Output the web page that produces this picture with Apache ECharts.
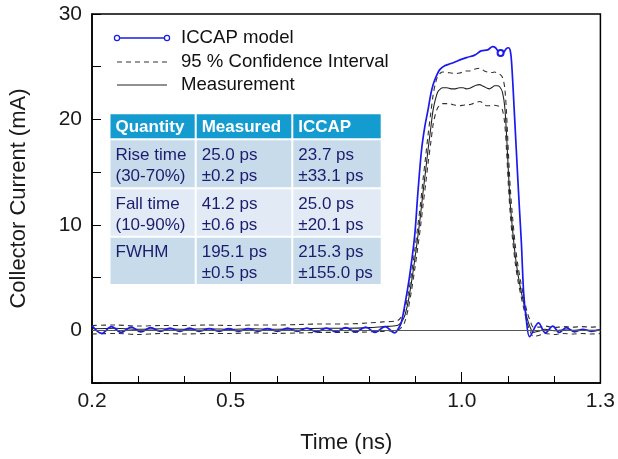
<!DOCTYPE html>
<html>
<head>
<meta charset="utf-8">
<script src="https://cdn.jsdelivr.net/npm/echarts@6/dist/echarts.min.js"></script>
<style>
html,body{margin:0;padding:0;background:#fff;}
#chart{width:618px;height:459px;}
</style>
</head>
<body>
<div id="chart"></div>
<script>
// ---- Data ----
const tMeas = [0.20,0.25,0.30,0.35,0.40,0.45,0.50,0.55,0.60,0.65,0.70,0.75,0.80,0.83,0.86,
  0.868,0.876,0.884,0.891,0.898,0.905,0.911,0.916,0.922,0.927,0.933,0.938,0.943,0.948,0.954,0.959,
  0.968,0.977,0.986,0.995,1.003,1.010,1.017,1.024,1.031,1.039,1.044,1.049,1.055,1.060,1.066,1.071,1.077,
  1.082,1.088,1.093,1.097,1.101,1.105,1.110,1.116,1.122,1.128,1.134,1.141,1.148,1.155,1.166,1.18,1.20,1.22,1.24,1.26,1.28,1.30];
const iMeas = [0.15,0.2,0.1,0.15,0.1,0.15,0.1,0.15,0.1,0.15,0.2,0.2,0.25,0.35,0.45,
  0.7,1.3,2.7,4.5,6.6,8.9,11.0,13.0,15.2,17.1,19.2,20.9,21.9,22.6,22.9,23.0,
  23.0,22.9,22.9,23.0,23.0,22.9,22.95,23.1,23.25,23.3,23.2,23.1,22.95,22.9,23.05,23.2,23.2,
  23.1,22.6,21.2,18.5,15.0,12.0,9.5,7.0,5.2,3.8,2.6,1.2,0.3,-0.2,-0.1,0.1,-0.05,0.05,0.0,0.05,0.0,0.05];
const iUpper = [0.45,0.5,0.4,0.45,0.45,0.5,0.45,0.5,0.5,0.55,0.6,0.6,0.7,0.8,0.9,
  1.2,1.9,3.4,5.3,7.5,9.9,12.1,14.2,16.5,18.5,20.6,22.3,23.4,24.1,24.4,24.5,
  24.45,24.4,24.35,24.4,24.5,24.6,24.6,24.7,24.8,24.85,24.75,24.6,24.5,24.45,24.45,24.5,24.4,
  24.3,24.0,23.0,20.5,16.8,13.5,10.7,8.0,6.0,4.5,3.2,1.8,0.9,0.3,0.3,0.4,0.25,0.35,0.3,0.35,0.3,0.35];
const iLower = [-0.35,-0.3,-0.4,-0.3,-0.35,-0.3,-0.3,-0.25,-0.3,-0.25,-0.2,-0.2,-0.15,-0.1,0.0,
  0.2,0.7,2.0,3.7,5.7,7.9,9.9,11.8,13.9,15.8,17.8,19.5,20.5,21.1,21.4,21.5,
  21.5,21.45,21.35,21.3,21.35,21.4,21.4,21.5,21.6,21.7,21.6,21.4,21.3,21.3,21.35,21.35,21.3,
  21.2,20.9,19.6,17.0,13.7,11.0,8.6,6.3,4.6,3.3,2.1,0.8,-0.1,-0.6,-0.5,-0.3,-0.4,-0.3,-0.35,-0.3,-0.35,-0.3];

const tModel = [0.200,0.221,0.242,0.263,0.285,0.306,0.327,0.348,0.369,0.390,0.411,0.432,0.454,0.475,0.496,0.517,
  0.538,0.559,0.580,0.601,0.623,0.644,0.665,0.686,0.707,0.728,0.749,0.770,0.792,0.813,0.834,0.855,
  0.862,0.869,0.876,0.887,0.898,0.905,0.913,0.920,0.927,0.933,0.938,0.945,0.952,0.963,0.977,0.988,0.999,1.013,
  1.028,1.042,1.056,1.067,1.073,1.078,1.084,1.089,1.096,1.101,1.105,1.108,1.114,1.121,1.125,1.129,1.134,1.139,
  1.147,1.166,1.181,1.197,1.211,1.226,1.244,1.262,1.280,1.298];
const iModel = [0.45,-0.3,0.35,-0.2,0.3,-0.15,0.25,-0.1,0.2,-0.1,0.2,-0.1,0.15,-0.1,0.15,-0.1,
  0.15,-0.1,0.15,-0.1,0.2,-0.1,0.2,-0.15,0.2,-0.15,0.25,-0.15,0.3,-0.2,0.35,-0.25,
  0.1,0.7,2.2,5.1,8.9,13.0,17.1,19.3,20.9,22.4,23.3,24.1,24.7,25.1,25.3,25.5,25.7,25.9,
  26.1,26.5,26.6,26.9,26.8,26.5,26.3,26.3,26.7,26.8,26.5,25.3,20.5,14.6,11.4,8.3,3.5,1.3,
  -0.6,0.7,-0.25,0.4,-0.2,0.25,-0.15,0.1,-0.1,0.05];
const modelMarkerTime = 1.084;

const xTickValues = [0.2,0.3,0.4,0.5,0.6,0.7,0.8,0.9,1.0,1.1,1.2,1.3];
const xLabelValues = [0.2,0.5,1.0,1.3];
const xMajorTicks = [0.5,1.0];
const yLabelValues = [0,10,20,30];

const legendNames = ['ICCAP model','95 % Confidence Interval','Measurement'];
const tableHeader = ['Quantity','Measured','ICCAP'];
const tableRows = [
  [['Rise time','(30-70%)'],['25.0 ps','±0.2 ps'],['23.7 ps','±33.1 ps']],
  [['Fall time','(10-90%)'],['41.2 ps','±0.6 ps'],['25.0 ps','±20.1 ps']],
  [['FWHM',''],['195.1 ps','±0.5 ps'],['215.3 ps','±155.0 ps']]
];

// ---- Build ----
const FONT = '"Liberation Sans", Arial, Helvetica, sans-serif';
const BLUE = '#1a1aee';
const pairs = (t, v) => t.map((x, i) => [x, v[i]]);
const markerIdx = tModel.indexOf(modelMarkerTime);

const chart = echarts.init(document.getElementById('chart'), null, {renderer: 'canvas'});

// legend graphics
const legendX0 = 117, legendX1 = 167, legendTextX = 181, legendYs = [38, 62, 85];
const graphics = [];
graphics.push({type:'line', shape:{x1:legendX0,y1:legendYs[0],x2:legendX1,y2:legendYs[0]}, style:{stroke:BLUE,lineWidth:1.6}, z:100});
graphics.push({type:'circle', shape:{cx:legendX0,cy:legendYs[0],r:2.6}, style:{stroke:BLUE,fill:'#fff',lineWidth:1.2}, z:101});
graphics.push({type:'circle', shape:{cx:legendX1,cy:legendYs[0],r:2.6}, style:{stroke:BLUE,fill:'#fff',lineWidth:1.2}, z:101});
graphics.push({type:'line', shape:{x1:legendX0,y1:legendYs[1],x2:legendX1,y2:legendYs[1]}, style:{stroke:'#333',lineWidth:1.1,lineDash:[5,4]}, z:100});
graphics.push({type:'line', shape:{x1:legendX0,y1:legendYs[2],x2:legendX1,y2:legendYs[2]}, style:{stroke:'#222',lineWidth:1.1}, z:100});
legendNames.forEach((n, i) => {
  graphics.push({type:'text', x:legendTextX, y:legendYs[i], style:{text:n, fill:'#111', font:'18.6px ' + FONT, textVerticalAlign:'middle', textAlign:'left'}, z:100});
});

// table graphics
const colX = [109.5, 195.7, 292.3, 381.7];
const rowY = [113.3, 139.3, 188.3, 236.7, 285];
const rowFill = ['#c8dbeb', '#e2ebf5', '#c8dbeb'];
for (let c = 0; c < 3; c++) {
  graphics.push({type:'rect', shape:{x:colX[c]+1, y:rowY[0]+1, width:colX[c+1]-colX[c]-2, height:rowY[1]-rowY[0]-2}, style:{fill:'#149bcf'}, z:50});
  graphics.push({type:'text', x:colX[c]+6, y:(rowY[0]+rowY[1])/2+1, style:{text:tableHeader[c], fill:'#fff', font:'bold 17px ' + FONT, textVerticalAlign:'middle'}, z:51});
}
tableRows.forEach((row, r) => {
  for (let c = 0; c < 3; c++) {
    graphics.push({type:'rect', shape:{x:colX[c]+1, y:rowY[r+1]+1, width:colX[c+1]-colX[c]-2, height:rowY[r+2]-rowY[r+1]-2}, style:{fill:rowFill[r]}, z:50});
    const lines = row[c];
    const yc = rowY[r+1];
    graphics.push({type:'text', x:colX[c]+6, y:yc+16, style:{text:lines[0], fill:'#1c1c6e', font:'17px ' + FONT, textVerticalAlign:'middle'}, z:51});
    if (lines[1]) graphics.push({type:'text', x:colX[c]+6, y:yc+37, style:{text:lines[1], fill:'#1c1c6e', font:'17px ' + FONT, textVerticalAlign:'middle'}, z:51});
  }
});

const option = {
  animation: false,
  backgroundColor: '#fff',
  grid: {left: 92, right: 16, top: 14, bottom: 75, show: true, borderColor: '#000', borderWidth: 1.5, backgroundColor: 'transparent'},
  xAxis: [{
    type: 'value', min: 0.2, max: 1.3, interval: 0.1,
    name: 'Time (ns)', nameLocation: 'middle', nameGap: 49,
    nameTextStyle: {fontSize: 22, color: '#1a1a1a', fontFamily: FONT},
    axisLine: {show: true, onZero: false, lineStyle: {color: '#000', width: 1.5}},
    axisTick: {show: true, inside: true, length: 7, customValues: xTickValues, lineStyle: {color: '#000', width: 1}},
    axisLabel: {customValues: xLabelValues, fontSize: 21, color: '#1a1a1a', fontFamily: FONT, margin: 8,
      formatter: v => (Math.round(v * 10) / 10).toFixed(1)},
    splitLine: {show: false}
  }, {
    type: 'value', min: 0.2, max: 1.3, position: 'bottom',
    axisLine: {show: false, onZero: false},
    axisTick: {show: true, inside: true, length: 11, customValues: xMajorTicks, lineStyle: {color: '#000', width: 1}},
    axisLabel: {show: false},
    splitLine: {show: false}
  }],
  yAxis: {
    type: 'value', min: -5, max: 30, interval: 5,
    name: 'Collector Current (mA)', nameLocation: 'middle', nameGap: 62, nameRotate: 90,
    nameTextStyle: {fontSize: 22, color: '#1a1a1a', fontFamily: FONT},
    axisLine: {show: true, onZero: false, lineStyle: {color: '#000', width: 1.5}},
    axisTick: {show: true, inside: true, length: 9, lineStyle: {color: '#000', width: 1}},
    axisLabel: {customValues: yLabelValues, fontSize: 21, color: '#1a1a1a', fontFamily: FONT, margin: 10},
    splitLine: {show: false}
  },
  series: [
    {
      name: 'Upper 95%', type: 'line', data: pairs(tMeas, iUpper), smooth: 0.3, symbol: 'none',
      lineStyle: {color: '#333', width: 1.1, type: [5, 4]}, z: 2,
      markLine: {silent: true, symbol: 'none', label: {show: false},
        lineStyle: {color: '#555', width: 1, type: 'solid'}, data: [{yAxis: 0}]}
    },
    {
      name: 'Lower 95%', type: 'line', data: pairs(tMeas, iLower), smooth: 0.3, symbol: 'none',
      lineStyle: {color: '#333', width: 1.1, type: [5, 4]}, z: 2
    },
    {
      name: 'Measurement', type: 'line', data: pairs(tMeas, iMeas), smooth: 0.3, symbol: 'none',
      lineStyle: {color: '#222', width: 1.1}, z: 3
    },
    {
      name: 'ICCAP model', type: 'line', data: pairs(tModel, iModel), smooth: 0.35,
      showSymbol: true, showAllSymbol: true,
      symbol: (v, p) => p.dataIndex === markerIdx ? 'emptyCircle' : 'none',
      symbolSize: 6,
      itemStyle: {color: BLUE, borderColor: BLUE, borderWidth: 1.2},
      lineStyle: {color: BLUE, width: 1.7}, z: 4
    }
  ],
  graphic: graphics
};
chart.setOption(option);
</script>
</body>
</html>
